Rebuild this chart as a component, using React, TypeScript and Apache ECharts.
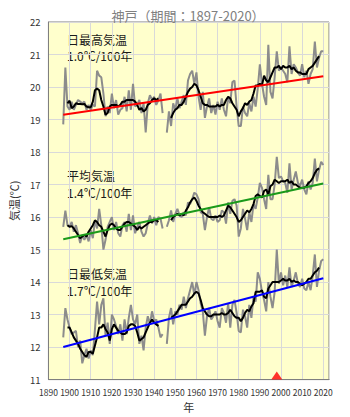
import React, { useEffect, useRef } from "react";
import * as echarts from "echarts";

const TITLE = "神戸（期間：1897-2020）";
const START_YEAR = 1897;
const MA_START_YEAR = 1899;
const TICK_YEARS = [1890, 1900, 1910, 1920, 1930, 1940, 1950, 1960, 1970, 1980, 1990, 2000, 2010, 2020];

// Annual values 1897-2020 (null = missing)
const maxAnnual = [
  18.85, 20.6, 19.4, 19.3, 19.55, 19.3, 19.45, 19.6, 19.55, 19.5,
  19.55, 19.3, 19.45, 19.3, 19.45, 19.4, 20.5, 20.35, 20.3, 19.8,
  19.1, 19.4, 19.2, 19.8, 19.35, 19.6, 19.15, 19.3, 19.35, 19.7,
  19.25, 19.9, 19.3, 20.1, 19.4, 19.45, 19.6, 19.2, 19.5, 18.6,
  19.5, 19.75, 19.6, 19.7, 19.45, 19.6, 19.8, 19.2, null, 18.6,
  19.25, 18.8, 19.5, 19.3, 19.65, 19.35, 19.55, 19.75, 19.45, 20.2,
  20.4, 20.5, 20.1, 20.45, 19.7, 19.3, 19.85, 19.05, 19.4, 19.65,
  19.2, 19.45, 19.15, 19.55, 19.3, 19.65, 19.3, 19.1, 19.7, 19.5,
  20.15, 20.2, 19.4, 18.8, 18.8, 19.4, 19.2, 19.1, 19.5, 19.25,
  19.7, 19.4, 19.95, 20.7, 20.1, 19.7, 19.45, 21.3, 19.85, 19.65,
  20.3, 21.1, 20.5, 20.6, 20.5, 20.4, 20.15, 21.25, 20.4, 20.7,
  20.6, 20.45, 20.35, 20.7, 20.3, 20.5, 20.1, 20.4, 20.55, 21.4,
  20.6, 20.9, 21.1, 21.1,
];
const meanAnnual = [
  15.7, 16.2, 15.75, 15.7, 15.85, 15.55, 15.75, 15.5, 15.2, 15.45,
  15.3, 15.45, 15.25, 15.6, 15.35, 15.9, 15.65, 16.25, 15.75, 15.0,
  15.3, 15.7, 15.85, 16.0, 15.6, 15.85, 15.5, 15.4, 15.75, 15.85,
  15.55, 16.1, 15.6, 16.05, 15.5, 15.7, 15.85, 15.55, 15.4, 15.5,
  15.8, 16.05, 15.8, 16.0, 15.75, 16.0, 15.95, 15.65, null, 15.7,
  15.9, 16.2, 15.85, 16.1, 16.25, 16.05, 16.0, 16.15, 16.05, 16.45,
  16.4, 16.55, 16.75, 16.7, 16.55, 16.15, 16.1, 15.6, 16.0, 16.3,
  15.95, 15.9, 16.05, 15.85, 15.9, 16.2, 16.15, 15.8, 16.45, 16.1,
  16.5, 16.55, 16.35, 15.4, 15.65, 16.25, 15.95, 15.6, 16.15, 15.85,
  16.4, 16.25, 16.6, 17.05, 16.9, 16.55, 16.25, 17.3, 16.55, 16.55,
  17.0, 17.85, 17.2, 17.25, 17.1, 17.05, 16.75, 17.65, 16.85, 17.15,
  17.4, 17.05, 16.95, 17.15, 16.85, 16.7, 17.1, 16.85, 17.05, 17.8,
  17.1, 17.45, 17.7, 17.6,
];
const minAnnual = [
  12.3, 13.2, 12.85, 12.6, 12.4, 12.45, 12.5, 12.0, 12.2, 11.5,
  11.75, 11.95, 11.65, 11.9, 11.75, 12.55, 13.4, 12.7, 13.3, 13.5,
  12.35, 12.75, 12.1, 13.0, 12.85, 12.65, 12.4, 12.7, 12.2, 12.85,
  12.4, 12.9, 13.3, 12.85, 12.7, 13.0, 12.1, 12.35, 11.9, 12.6,
  12.95, 12.7, 13.1, 12.8, 12.85, 12.6, 12.3, 12.4, null, 12.1,
  12.9, 13.2, 12.7, 13.1, 13.0, 13.3, 13.15, 13.55, 13.2, 13.5,
  13.75, 14.0, 13.6, 14.0, 13.75, 13.35, 13.1, 12.35, 12.95, 13.2,
  12.85, 12.95, 13.1, 12.8, 12.6, 13.2, 13.05, 12.75, 13.35, 12.6,
  13.3, 13.45, 13.05, 12.5, 12.45, 13.15, 12.95, 12.6, 13.3, 12.9,
  13.55, 13.4, 14.3, 14.1, 13.7, 13.45, 13.1, 14.0, 13.55, 13.2,
  13.7, 15.0, 13.95, 14.3, 13.9, 14.2, 13.85, 14.45, 13.85, 14.05,
  14.3, 13.95, 13.85, 14.1, 13.8, 13.75, 14.0, 13.75, 14.2, 14.85,
  13.85, 14.35, 14.65, 14.7,
];

// 5-year running means 1899-2018 (null = missing)
const maxMA = [
  19.5, 19.58, 19.35, 19.4, 19.5, 19.48, 19.48, 19.47, 19.48, 19.4,
  19.38, 19.38, 19.55, 19.9, 19.95, 19.9, 19.6, 19.4, 19.15, 19.2,
  19.4, 19.45, 19.45, 19.45, 19.4, 19.45, 19.55, 19.55, 19.6, 19.6,
  19.6, 19.6, 19.55, 19.45, 19.3, 19.35, 19.25, 19.3, 19.45, 19.5,
  19.6, 19.65, 19.6, 19.65, null, null, null, null, null, 19.05,
  19.2, 19.3, 19.35, 19.45, 19.45, 19.55, 19.7, 19.85, 19.95, 20.0,
  20.1, 20.05, 19.9, 19.7, 19.5, 19.45, 19.45, 19.4, 19.4, 19.4,
  19.4, 19.45, 19.4, 19.45, 19.45, 19.6, 19.7, 19.65, 19.5, 19.4,
  19.3, 19.1, 19.25, 19.35, 19.5, 19.45, 19.55, 19.6, 19.8, 20.05,
  20.05, 20.1, 20.05, 20.35, 20.2, 20.15, 20.3, 20.45, 20.6, 20.6,
  20.65, 20.55, 20.65, 20.6, 20.6, 20.65, 20.55, 20.6, 20.5, 20.45,
  20.45, 20.4, 20.4, 20.4, 20.55, 20.6, 20.65, 20.75, 20.85, 20.95,
];
const meanMA = [
  15.75, 15.7, 15.72, 15.65, 15.55, 15.45, 15.35, 15.4, 15.45, 15.4,
  15.55, 15.65, 15.75, 15.9, 15.85, 15.75, 15.7, 15.55, 15.4, 15.6,
  15.75, 15.8, 15.75, 15.65, 15.6, 15.6, 15.7, 15.8, 15.85, 15.85,
  15.8, 15.75, 15.7, 15.6, 15.7, 15.65, 15.7, 15.75, 15.8, 15.85,
  15.85, 15.9, 15.9, 15.85, null, null, null, null, null, 15.9,
  16.0, 16.05, 16.1, 16.05, 16.1, 16.05, 16.2, 16.3, 16.45, 16.55,
  16.6, 16.5, 16.35, 16.25, 16.15, 16.1, 16.05, 16.0, 16.0, 16.0,
  16.0, 16.0, 16.05, 16.0, 16.05, 16.2, 16.35, 16.3, 16.2, 16.1,
  16.0, 15.85, 15.9, 16.0, 16.1, 16.2, 16.15, 16.25, 16.4, 16.65,
  16.7, 16.65, 16.6, 16.8, 16.85, 16.7, 16.95, 17.0, 17.15, 17.1,
  17.05, 17.1, 17.1, 17.1, 17.15, 17.05, 17.1, 17.0, 17.0, 16.95,
  16.9, 16.9, 16.9, 16.95, 17.05, 17.1, 17.2, 17.35, 17.45, 17.5,
];
const minMA = [
  12.6, 12.6, 12.45, 12.3, 12.2, 12.1, 11.95, 11.85, 11.75, 11.7,
  11.85, 11.85, 11.8, 12.05, 12.3, 12.6, 12.6, 12.7, 12.55, 12.45,
  12.2, 12.55, 12.7, 12.6, 12.5, 12.45, 12.4, 12.4, 12.45, 12.65,
  12.7, 12.7, 12.65, 12.45, 12.2, 12.25, 12.3, 12.45, 12.6, 12.75,
  12.85, 12.75, 12.7, 12.65, null, null, null, null, null, 12.9,
  12.95, 13.0, 13.1, 13.2, 13.3, 13.3, 13.3, 13.4, 13.5, 13.55,
  13.65, 13.7, 13.65, 13.45, 13.2, 13.1, 13.0, 12.95, 12.95, 13.0,
  13.0, 13.0, 13.0, 13.05, 13.0, 13.0, 13.05, 13.15, 13.05, 12.95,
  12.9, 12.9, 12.8, 12.9, 13.05, 13.15, 13.1, 13.25, 13.35, 13.7,
  13.7, 13.7, 13.75, 13.55, 13.5, 13.8, 13.9, 14.0, 14.0, 14.0,
  14.0, 14.05, 14.1, 14.05, 14.05, 14.1, 14.0, 14.05, 14.0, 14.0,
  13.95, 13.9, 13.95, 14.0, 14.1, 14.1, 14.2, 14.3, 14.35, 14.45,
];

// Trend lines: [year, value] at both ends
const TREND_YEARS = [1897, 2020];
const maxTrend = [19.15, 20.33];
const meanTrend = [15.32, 17.03];
const minTrend = [12.0, 14.12];

const LABELS = [
  { name: "日最高気温", rate: "1.0℃/100年" },
  { name: "平均気温", rate: "1.4℃/100年" },
  { name: "日最低気温", rate: "1.7℃/100年" },
];

const MARKER_YEAR = 1998;

const FONT = '"Noto Sans CJK JP", "Noto Sans", sans-serif';

function pairs(start: number, vals: (number | null)[]) {
  return vals.map((v, i) => [start + i, v]);
}
function trendPairs(vals: number[]) {
  return vals.map((v, i) => [TREND_YEARS[i], v]);
}

export default function App() {
  const ref = useRef<HTMLDivElement>(null);
  useEffect(() => {
    if (!ref.current) return;
    document.body.style.margin = "0";
    const chart = echarts.init(ref.current, null, { renderer: "svg" });
    const gray = (data: any) => ({
      type: "line",
      data,
      symbol: "none",
      lineStyle: { color: "#8c8c8c", width: 2 },
      connectNulls: false,
      silent: true,
    });
    const black = (data: any) => ({
      type: "line",
      data,
      symbol: "none",
      lineStyle: { color: "#000000", width: 2 },
      connectNulls: false,
      silent: true,
    });
    const trend = (data: any, color: string) => ({
      type: "line",
      data,
      symbol: "none",
      lineStyle: { color, width: 2 },
      silent: true,
    });
    const textBlock = (t: string, y: number) => ({
      type: "text",
      x: 67,
      y,
      style: {
        text: t,
        font: `12px ${FONT}`,
        fill: "#1a1a1a",
        verticalAlign: "middle",
        textAlign: "left",
      },
    });
    chart.setOption({
      animation: false,
      backgroundColor: "#ffffff",
      title: {
        text: TITLE,
        left: 183,
        top: 4,
        textAlign: "center",
        textStyle: { fontSize: 13, fontWeight: "normal", color: "#808080", fontFamily: FONT },
      },
      grid: {
        left: 43,
        right: 21,
        top: 22,
        bottom: 36,
        show: true,
        backgroundColor: "#ffffcc",
        borderColor: "#7f7f7f",
        borderWidth: 1,
      },
      xAxis: {
        type: "value",
        min: TICK_YEARS[0],
        max: 2022.7,
        interval: 10,
        name: "年",
        nameLocation: "middle",
        nameGap: 20,
        nameTextStyle: { fontSize: 11, color: "#333", fontFamily: FONT },
        axisLine: { show: true, lineStyle: { color: "#7f7f7f" } },
        axisTick: { show: false },
        axisLabel: {
          fontSize: 8.5,
          color: "#333",
          fontFamily: FONT,
          margin: 8,
          formatter: (v: number) => (TICK_YEARS.indexOf(v) >= 0 ? String(v) : ""),
        },
        splitLine: { show: true, lineStyle: { color: "#d9d9d9", width: 1 } },
      },
      yAxis: {
        type: "value",
        min: 11,
        max: 22,
        interval: 1,
        name: "気温(℃)",
        nameLocation: "middle",
        nameGap: 25,
        nameRotate: 90,
        nameTextStyle: { fontSize: 11, color: "#333", fontFamily: FONT },
        axisLine: { show: true, lineStyle: { color: "#7f7f7f" } },
        axisTick: { show: false },
        axisLabel: { fontSize: 9.5, color: "#333", fontFamily: FONT, margin: 8 },
        splitLine: { show: true, lineStyle: { color: "#d9d9d9", width: 1 } },
      },
      graphic: [
        textBlock(LABELS[0].name, 39),
        textBlock(LABELS[0].rate, 55),
        textBlock(LABELS[1].name, 175),
        textBlock(LABELS[1].rate, 192),
        textBlock(LABELS[2].name, 273),
        textBlock(LABELS[2].rate, 290),
      ],
      series: [
        gray(pairs(START_YEAR, maxAnnual)),
        gray(pairs(START_YEAR, meanAnnual)),
        gray(pairs(START_YEAR, minAnnual)),
        black(pairs(MA_START_YEAR, maxMA)),
        black(pairs(MA_START_YEAR, meanMA)),
        black(pairs(MA_START_YEAR, minMA)),
        trend(trendPairs(maxTrend), "#ff0000"),
        trend(trendPairs(meanTrend), "#1a9a1a"),
        trend(trendPairs(minTrend), "#0000ff"),
        {
          type: "scatter",
          data: [[MARKER_YEAR, 11]],
          symbol: "triangle",
          symbolSize: [11, 8],
          symbolOffset: [0, -4],
          itemStyle: { color: "#ff0000" },
          silent: true,
          z: 5,
        },
      ],
    });
    return () => chart.dispose();
  }, []);
  return (
    <div
      ref={ref}
      style={{ position: "absolute", left: 0, top: 0, width: 350, height: 417 }}
    />
  );
}
